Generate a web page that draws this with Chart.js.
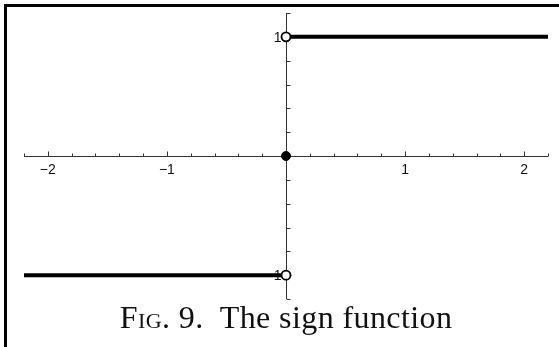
<!DOCTYPE html>
<html>
<head>
<meta charset="utf-8">
<script src="https://cdn.jsdelivr.net/npm/chart.js@4"></script>
<style>
  html, body { margin: 0; padding: 0; background: #fff; overflow: hidden; }
  #wrap { position: relative; width: 559px; height: 347px; }
  #frame {
    position: absolute; left: 4px; top: 4px; width: 600px; height: 400px;
    border-top: 3px solid #000; border-left: 3px solid #000;
  }
  #caption {
    position: absolute; left: 286px; top: 301px; transform: translateX(-50%);
    font-family: "Liberation Serif", serif; font-size: 32px; line-height: 32px;
    letter-spacing: 0.4px; white-space: pre; color: #111;
  }
  .sc { font-variant: small-caps; }
</style>
</head>
<body>
<div id="wrap">
  <canvas id="chart" width="559" height="347"></canvas>
  <div id="frame"></div>
  <div id="caption">F<span class="sc">ig</span>. 9.  The sign function</div>
</div>
<script>
// sign(x) pieces
const upperX = [0, 2.2];
const upperY = [1, 1];
const lowerX = [-2.2, 0];
const lowerY = [-1, -1];
const openX = [0, 0];
const openY = [1, -1];
const filledX = [0];
const filledY = [0];

// axes
const xRange = [-2.2, 2.2];
const yRange = [-1.2, 1.2];
const minorStep = 0.2;
const xTickLabels = [-2, -1, 1, 2];
const yTickLabels = [1, -1];

const pts = (xs, ys) => xs.map((v, i) => ({ x: v, y: ys[i] }));
const fmt = v => (v < 0 ? '\u2212' + Math.abs(v) : String(v));

// draws the cross-shaped axes through the origin, ticks pointing up / right
const signAxes = {
    id: 'signAxes',
    beforeDatasetsDraw(chart) {
        const { ctx, scales: { x, y } } = chart;
        const x0 = Math.round(x.getPixelForValue(0)) + 0.5;
        const y0 = Math.round(y.getPixelForValue(0)) + 0.5;
        ctx.save();
        ctx.strokeStyle = '#333';
        ctx.lineWidth = 1;
        ctx.beginPath();
        ctx.moveTo(x.left, y0); ctx.lineTo(x.right, y0);
        ctx.moveTo(x0, y.top); ctx.lineTo(x0, y.bottom);

        const nx = Math.round((xRange[1] - xRange[0]) / minorStep);
        for (let i = 0; i <= nx; i++) {
            const v = xRange[0] + i * minorStep;
            if (Math.abs(v) < 1e-6) continue;
            const px = Math.round(x.getPixelForValue(v)) + 0.5;
            const major = Math.abs(v - Math.round(v)) < 1e-6;
            ctx.moveTo(px, y0); ctx.lineTo(px, y0 - (major ? 5 : 3));
        }
        const ny = Math.round((yRange[1] - yRange[0]) / minorStep);
        for (let i = 0; i <= ny; i++) {
            const v = yRange[0] + i * minorStep;
            if (Math.abs(v) < 1e-6) continue;
            const py = Math.round(y.getPixelForValue(v)) + 0.5;
            const major = Math.abs(v - Math.round(v)) < 1e-6;
            ctx.moveTo(x0, py); ctx.lineTo(x0 + (major ? 5 : 4), py);
        }
        ctx.stroke();

        ctx.fillStyle = '#111';
        ctx.font = '14px "Liberation Sans", Arial, sans-serif';
        ctx.textAlign = 'center';
        ctx.textBaseline = 'top';
        xTickLabels.forEach(v => ctx.fillText(fmt(v), x.getPixelForValue(v), y0 + 7));
        ctx.textAlign = 'right';
        ctx.textBaseline = 'middle';
        yTickLabels.forEach(v => ctx.fillText(fmt(v), x0 - 5, y.getPixelForValue(v) + 1));
        ctx.restore();
    }
};

const lineStyle = { showLine: true, borderColor: '#000', borderWidth: 4, pointRadius: 0, borderCapStyle: 'butt' };

new Chart(document.getElementById('chart'), {
    type: 'scatter',
    data: {
        datasets: [
            { data: pts(openX, openY), pointRadius: 4.5, pointBackgroundColor: '#fff',
              pointBorderColor: '#000', pointBorderWidth: 1.8 },
            { data: pts(filledX, filledY), pointRadius: 4.5, pointBackgroundColor: '#000',
              pointBorderColor: '#000', pointBorderWidth: 1 },
            { data: pts(upperX, upperY), ...lineStyle },
            { data: pts(lowerX, lowerY), ...lineStyle }
        ]
    },
    options: {
        responsive: false,
        animation: false,
        layout: { padding: { left: 24, right: 11, top: 13, bottom: 48 } },
        plugins: { legend: { display: false }, tooltip: { enabled: false } },
        scales: {
            x: { type: 'linear', min: xRange[0], max: xRange[1], display: false },
            y: { type: 'linear', min: yRange[0], max: yRange[1], display: false }
        }
    },
    plugins: [signAxes]
});
</script>
</body>
</html>
